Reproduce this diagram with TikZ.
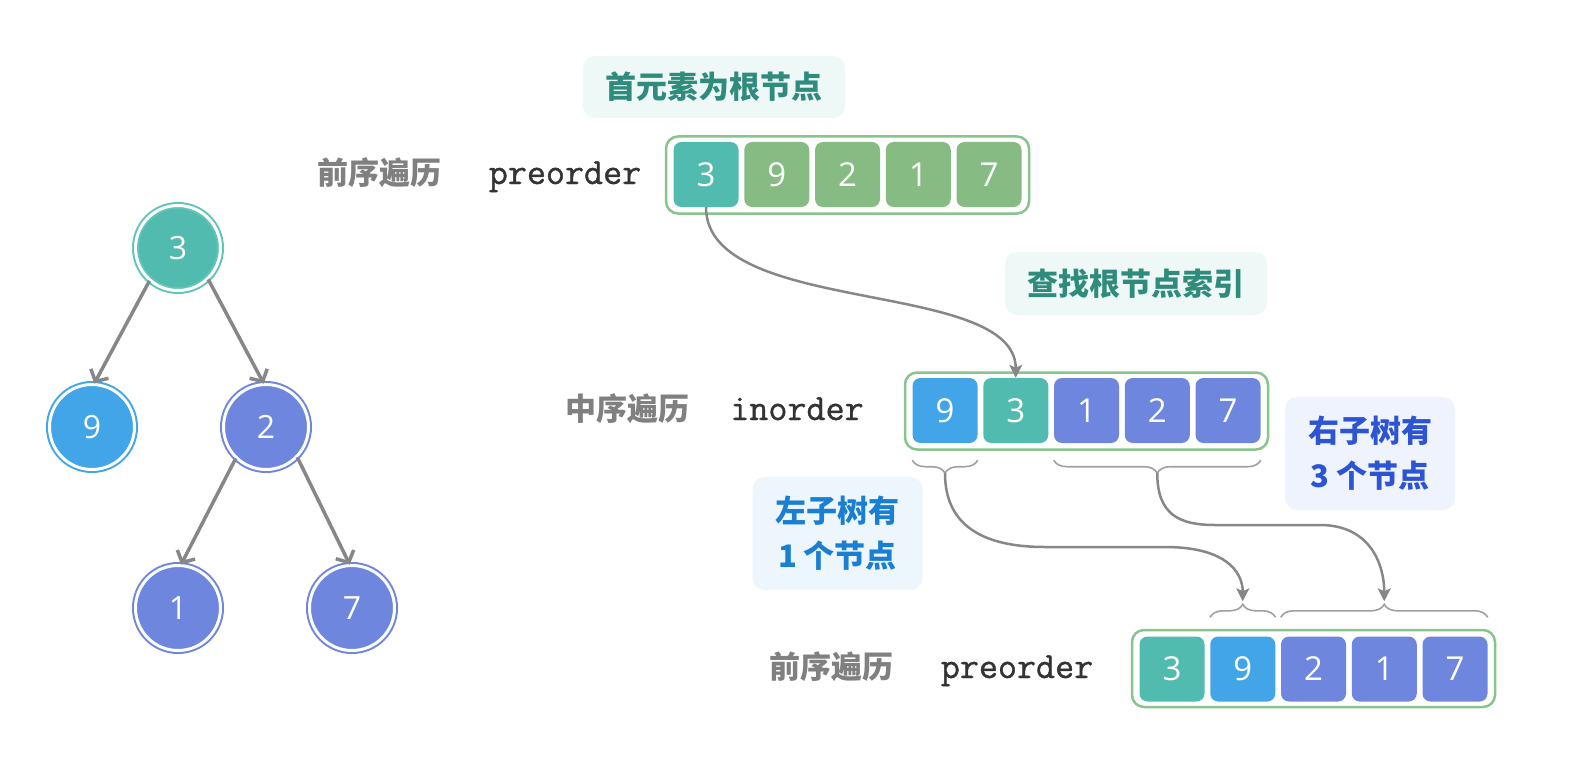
\documentclass[tikz,border=0pt]{standalone}
\usepackage{fontspec}
\setmainfont{Open Sans}
\newfontfamily\cjk{Noto Sans CJK SC}
\newfontfamily\codefont{Latin Modern Mono}[FakeBold=1]
\usetikzlibrary{arrows.meta,decorations.pathreplacing}

\definecolor{cTeal}{HTML}{52BBB0}
\definecolor{cTealRing}{HTML}{62C4B8}
\definecolor{cGreen}{HTML}{86BB83}
\definecolor{cBlue}{HTML}{41A5E8}
\definecolor{cPurple}{HTML}{6E86DD}
\definecolor{cBorder}{HTML}{88C48C}
\definecolor{cEdge}{HTML}{878787}
\definecolor{cBrace}{HTML}{A0A0A0}
\definecolor{cGrayTxt}{HTML}{808080}
\definecolor{cMono}{HTML}{333333}
\definecolor{cTipTxt}{HTML}{2F8B7C}
\definecolor{cTipFill}{HTML}{EEF8F6}
\definecolor{cLeftTxt}{HTML}{1A7FD2}
\definecolor{cLeftFill}{HTML}{EEF6FD}
\definecolor{cRightTxt}{HTML}{2D55D2}
\definecolor{cRightFill}{HTML}{EFF3FD}

\tikzset{
  tnode/.style={circle, minimum size=85pt, inner sep=0pt, outer sep=1pt,
    line width=2pt, double=white, double distance=3pt, draw=#1, fill=#1,
    text=white, font=\fontsize{32}{32}\selectfont},
  tedge/.style={draw=cEdge, line width=3.5pt, -{Straight Barb[length=9pt,width=20pt]}},
  cell/.style={rectangle, rounded corners=8pt, minimum width=65pt, minimum height=65pt,
    inner sep=0pt, fill=#1, text=white, font=\fontsize{33}{33}\selectfont},
  arrbox/.style={rectangle, rounded corners=12pt, minimum width=363pt, minimum height=77pt,
    draw=cBorder, line width=2.5pt, fill=white},
  rowlabel/.style={anchor=base, text=cGrayTxt, font=\cjk\bfseries\fontsize{31}{31}\selectfont},
  codelabel/.style={anchor=base, text=cMono, font=\codefont\fontsize{37}{37}\selectfont},
  tip/.style={rectangle, rounded corners=12pt, fill=#1, inner sep=0pt, align=center,
    font=\cjk\bfseries\fontsize{31}{45}\selectfont},
  flow/.style={draw=cEdge, line width=2.5pt, -{Stealth[length=13pt,width=13pt,inset=3pt]}},
  bracemark/.style={draw=cBrace, line width=1.6pt, decorate, decoration={brace, amplitude=13pt}},
}

\begin{document}
\begin{tikzpicture}[x=1pt, y=-1pt]
\useasboundingbox (0,0) rectangle (1579,781);

% binary tree
\node[tnode=cTeal, draw=cTealRing] (n3) at (178,248) {3};
\node[tnode=cBlue]   (n9) at (92,427)  {9};
\node[tnode=cPurple] (n2) at (266,427) {2};
\node[tnode=cPurple] (n1) at (178,608) {1};
\node[tnode=cPurple] (n7) at (352,608) {7};
\draw[tedge] (n3.229) -- (n9.87);
\draw[tedge] (n3.314) -- (n2.93);
\draw[tedge] (n2.226) -- (n1.86);
\draw[tedge] (n2.316) -- (n7.93);

% preorder (top)
\node[tip=cTipFill, minimum width=262pt, minimum height=62pt, text=cTipTxt] (t1) at (714,87) {首元素为根节点};
\node[rowlabel] (pl) at (379,184) {前序遍历};
\node[codelabel] (pcode) at (565,184) {preorder};
\node[arrbox] (pa) at (847.5,175) {};
\node[cell=cTeal]  (pc1) at (706,174.5)    {3};
\node[cell=cGreen] (pc2) at (776.75,174.5) {9};
\node[cell=cGreen] (pc3) at (847.5,174.5)  {2};
\node[cell=cGreen] (pc4) at (918.25,174.5) {1};
\node[cell=cGreen] (pc5) at (989,174.5)    {7};

% inorder
\node[tip=cTipFill, minimum width=262pt, minimum height=63pt, text=cTipTxt] (t2) at (1136,283.5) {查找根节点索引};
\node[rowlabel] (il) at (627.5,420) {中序遍历};
\node[codelabel] (icode) at (797,420) {inorder};
\node[arrbox] (ia) at (1086.5,411) {};
\node[cell=cBlue]   (ic1) at (945,410.5)     {9};
\node[cell=cTeal]   (ic2) at (1015.75,410.5) {3};
\node[cell=cPurple] (ic3) at (1086.5,410.5)  {1};
\node[cell=cPurple] (ic4) at (1157.25,410.5) {2};
\node[cell=cPurple] (ic5) at (1228,410.5)    {7};

% preorder (bottom)
\node[rowlabel] (bl) at (831,678) {前序遍历};
\node[codelabel] (bcode) at (1017,678) {preorder};
\node[arrbox] (ba) at (1313.5,668.5) {};
\node[cell=cTeal]   (bc1) at (1172,669)    {3};
\node[cell=cBlue]   (bc2) at (1242.75,669) {9};
\node[cell=cPurple] (bc3) at (1313.5,669)  {2};
\node[cell=cPurple] (bc4) at (1384.25,669) {1};
\node[cell=cPurple] (bc5) at (1455,669)    {7};

% subtree sizes
\node[tip=cLeftFill, minimum width=170pt, minimum height=113pt, text=cLeftTxt] (tl) at (837.5,533.5) {左子树有\\1 个节点};
\node[tip=cRightFill, minimum width=170pt, minimum height=113pt, text=cRightTxt] (tr) at (1370,453.5) {右子树有\\3 个节点};

% braces under the inorder array
\draw[bracemark, decoration={mirror}] ([yshift=-17pt]ic1.south west) -- ([yshift=-17pt]ic1.south east);
\draw[bracemark, decoration={mirror}] ([yshift=-17pt]ic3.south west) -- ([yshift=-17pt]ic5.south east);
% braces above the bottom preorder array
\draw[bracemark] ([yshift=19pt]bc2.north west) -- ([yshift=19pt]bc2.north east);
\draw[bracemark] ([yshift=19pt]bc3.north west) -- ([yshift=19pt]bc5.north east);

\coordinate (ilt) at ([yshift=-30pt]ic1.south);
\coordinate (irt) at ([yshift=-30pt]ic4.south);
\coordinate (blt) at ([yshift=35pt]bc2.north);
\coordinate (brt) at ([yshift=35pt]bc4.north);

% connectors
\draw[flow] (pc1.south) .. controls +(0,110) and +(0,-100) .. (ic2.north);
\draw[flow] (ilt) .. controls +(0,57) and +(-55,0) .. (1045,547) -- (1165,547)
  .. controls +(60,0) and +(0,-30) .. (blt);
\draw[flow] (irt) .. controls +(0,42) and +(-35,0) .. (1215,525) -- (1320,525)
  .. controls +(50,0) and +(0,-37) .. (brt);
\end{tikzpicture}
\end{document}
